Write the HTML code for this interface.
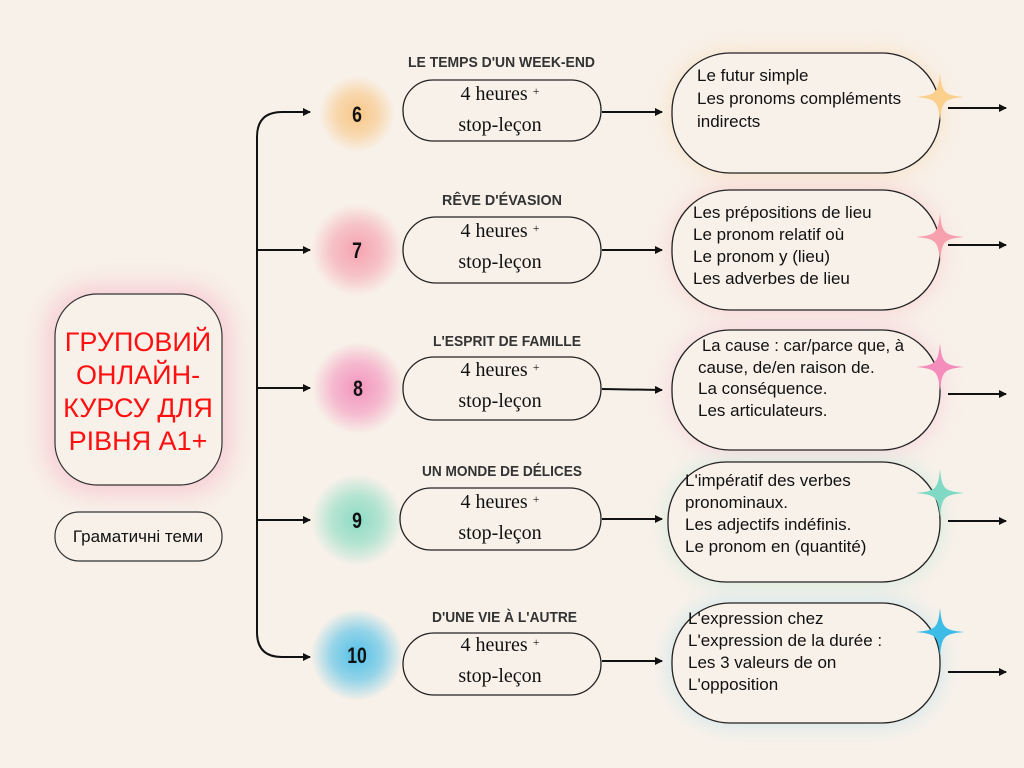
<!DOCTYPE html>
<html><head><meta charset="utf-8"><style>
html,body{margin:0;padding:0;background:#f8f1e9;}
svg{display:block}
.t{font-family:"Liberation Sans","DejaVu Sans",sans-serif;font-weight:bold;font-size:15px;fill:#333}
.n{font-family:"Liberation Sans",sans-serif;font-weight:bold;font-size:22px;fill:#111}
.h{font-family:"Liberation Serif",serif;font-size:20px;fill:#111}
.r{font-family:"Liberation Sans","DejaVu Sans",sans-serif;font-size:17px;fill:#111}
</style></head><body>
<svg width="1024" height="768" viewBox="0 0 1024 768" xmlns="http://www.w3.org/2000/svg">
<defs>
<radialGradient id="go"><stop offset="0" stop-color="#f8c27c"/><stop offset="0.55" stop-color="#f8c27c" stop-opacity="0.6"/><stop offset="1" stop-color="#f8c27c" stop-opacity="0"/></radialGradient>
<radialGradient id="gp"><stop offset="0" stop-color="#f59aaa"/><stop offset="0.55" stop-color="#f59aaa" stop-opacity="0.6"/><stop offset="1" stop-color="#f59aaa" stop-opacity="0"/></radialGradient>
<radialGradient id="gm"><stop offset="0" stop-color="#f28ab8"/><stop offset="0.55" stop-color="#f28ab8" stop-opacity="0.6"/><stop offset="1" stop-color="#f28ab8" stop-opacity="0"/></radialGradient>
<radialGradient id="gt"><stop offset="0" stop-color="#80d9c0"/><stop offset="0.55" stop-color="#80d9c0" stop-opacity="0.6"/><stop offset="1" stop-color="#80d9c0" stop-opacity="0"/></radialGradient>
<radialGradient id="gb"><stop offset="0" stop-color="#3fbbe8"/><stop offset="0.55" stop-color="#3fbbe8" stop-opacity="0.6"/><stop offset="1" stop-color="#3fbbe8" stop-opacity="0"/></radialGradient>
<filter id="blur" x="-50%" y="-50%" width="200%" height="200%"><feGaussianBlur stdDeviation="12"/></filter>
<marker id="ar" markerWidth="8" markerHeight="8" refX="7" refY="4" orient="auto" markerUnits="userSpaceOnUse"><path d="M0,0 L8,4 L0,8 z" fill="#111"/></marker>
<path id="star" d="M0,-24 C2,-4 4,-2 24,0 C4,2 2,4 0,24 C-2,4 -4,2 -24,0 C-4,-2 -2,-4 0,-24 z"/>
</defs>

<circle cx="357" cy="114" r="38" fill="url(#go)" opacity="0.9"/>
<circle cx="357" cy="250" r="46" fill="url(#gp)" opacity="0.9"/>
<circle cx="358" cy="388" r="46" fill="url(#gm)" opacity="0.9"/>
<circle cx="357" cy="520" r="46" fill="url(#gt)" opacity="0.9"/>
<circle cx="357" cy="655" r="46" fill="url(#gb)" opacity="0.9"/>
<rect x="45" y="285" width="187" height="210" rx="50" fill="#f7c0cc" filter="url(#blur)" opacity="0.7"/>
<rect x="672" y="53" width="268" height="120" rx="58" fill="#f8d3a8" filter="url(#blur)" opacity="0.6"/>
<rect x="672" y="190" width="268" height="120" rx="58" fill="#f7b8c0" filter="url(#blur)" opacity="0.6"/>
<rect x="672" y="330" width="268" height="120" rx="58" fill="#f5b8d0" filter="url(#blur)" opacity="0.6"/>
<rect x="668" y="462" width="272" height="120" rx="58" fill="#b6e6d6" filter="url(#blur)" opacity="0.6"/>
<rect x="672" y="603" width="268" height="120" rx="58" fill="#a6dcf0" filter="url(#blur)" opacity="0.6"/>

<rect x="55" y="294" width="167" height="191" rx="42" fill="#f8f1e9" stroke="#333" stroke-width="1.2"/>
<g font-family="Liberation Sans, DejaVu Sans, sans-serif" font-size="27" fill="#ff1010" text-anchor="middle">
<text x="138" y="351">ГРУПОВИЙ</text>
<text x="138" y="384">ОНЛАЙН-</text>
<text x="138" y="417">КУРСУ ДЛЯ</text>
<text x="138" y="450">РІВНЯ А1+</text>
</g>
<rect x="55" y="512" width="167" height="49" rx="24" fill="#f8f1e9" stroke="#333" stroke-width="1.2"/>
<text x="138" y="542" text-anchor="middle" font-family="Liberation Sans, DejaVu Sans, sans-serif" font-size="17" fill="#111">Граматичні теми</text>

<path d="M310,112 L282,112 Q257,112 257,137 L257,632 Q257,657 282,657 L310,657" fill="none" stroke="#111" stroke-width="2" marker-end="url(#ar)"/>
<line x1="282" y1="112" x2="310" y2="112" stroke="#111" stroke-width="2" marker-end="url(#ar)"/>
<line x1="257" y1="250" x2="310" y2="250" stroke="#111" stroke-width="2" marker-end="url(#ar)"/>
<line x1="257" y1="388" x2="310" y2="388" stroke="#111" stroke-width="2" marker-end="url(#ar)"/>
<line x1="257" y1="520" x2="310" y2="520" stroke="#111" stroke-width="2" marker-end="url(#ar)"/>

<g text-anchor="middle">
<text class="n" x="357" y="122" transform="translate(357 0) scale(0.8 1) translate(-357 0)">6</text>
<text class="n" x="357" y="258" transform="translate(357 0) scale(0.8 1) translate(-357 0)">7</text>
<text class="n" x="358" y="396" transform="translate(358 0) scale(0.8 1) translate(-358 0)">8</text>
<text class="n" x="357" y="528" transform="translate(357 0) scale(0.8 1) translate(-357 0)">9</text>
<text class="n" x="357" y="663" transform="translate(357 0) scale(0.8 1) translate(-357 0)">10</text>
</g>

<g>
<text class="t" x="408" y="67" textLength="187" lengthAdjust="spacingAndGlyphs">LE TEMPS D'UN WEEK-END</text>
<text class="t" x="442" y="205" textLength="120" lengthAdjust="spacingAndGlyphs">RÊVE D'ÉVASION</text>
<text class="t" x="433" y="346" textLength="148" lengthAdjust="spacingAndGlyphs">L'ESPRIT DE FAMILLE</text>
<text class="t" x="422" y="476" textLength="160" lengthAdjust="spacingAndGlyphs">UN MONDE DE DÉLICES</text>
<text class="t" x="432" y="622" textLength="145" lengthAdjust="spacingAndGlyphs">D'UNE VIE À L'AUTRE</text>
</g>

<g fill="none" stroke="#222" stroke-width="1.3">
<rect x="403" y="80" width="198" height="61" rx="30"/>
<rect x="403" y="217" width="198" height="66" rx="33"/>
<rect x="403" y="357" width="198" height="63" rx="31"/>
<rect x="400" y="488" width="201" height="62" rx="31"/>
<rect x="403" y="633" width="198" height="62" rx="31"/>
</g>
<g text-anchor="middle">
<text class="h" x="500" y="100">4 heures <tspan font-size="12" dy="-5">+</tspan></text><text class="h" x="500" y="131">stop-leçon</text>
<text class="h" x="500" y="237">4 heures <tspan font-size="12" dy="-5">+</tspan></text><text class="h" x="500" y="268">stop-leçon</text>
<text class="h" x="500" y="376">4 heures <tspan font-size="12" dy="-5">+</tspan></text><text class="h" x="500" y="407">stop-leçon</text>
<text class="h" x="500" y="508">4 heures <tspan font-size="12" dy="-5">+</tspan></text><text class="h" x="500" y="539">stop-leçon</text>
<text class="h" x="500" y="651">4 heures <tspan font-size="12" dy="-5">+</tspan></text><text class="h" x="500" y="682">stop-leçon</text>
</g>

<g stroke="#111" stroke-width="2" marker-end="url(#ar)">
<line x1="602" y1="112" x2="662" y2="112"/>
<line x1="602" y1="250" x2="662" y2="250"/>
<line x1="602" y1="389" x2="662" y2="390"/>
<line x1="602" y1="519" x2="662" y2="519"/>
<line x1="602" y1="661" x2="662" y2="661"/>
<line x1="948" y1="108" x2="1006" y2="108"/>
<line x1="948" y1="245" x2="1006" y2="245"/>
<line x1="948" y1="394" x2="1006" y2="394"/>
<line x1="948" y1="521" x2="1006" y2="521"/>
<line x1="948" y1="672" x2="1006" y2="672"/>
</g>

<g fill="#f8f1e9" stroke="#222" stroke-width="1.3">
<rect x="672" y="53" width="268" height="120" rx="58"/>
<rect x="672" y="190" width="268" height="120" rx="58"/>
<rect x="672" y="330" width="268" height="120" rx="58"/>
<rect x="668" y="462" width="272" height="120" rx="58"/>
<rect x="672" y="603" width="268" height="120" rx="58"/>
</g>
<g>
<text class="r" x="697" y="81">Le futur simple</text>
<text class="r" x="697" y="104">Les pronoms compléments</text>
<text class="r" x="697" y="127">indirects</text>
<text class="r" x="693" y="218">Les prépositions de lieu</text>
<text class="r" x="693" y="240">Le pronom relatif  où</text>
<text class="r" x="693" y="262">Le pronom y  (lieu)</text>
<text class="r" x="693" y="284">Les adverbes de lieu</text>
<text class="r" x="702" y="351" textLength="202" lengthAdjust="spacingAndGlyphs">La cause : car/parce que, à</text>
<text class="r" x="698" y="373">cause, de/en raison de.</text>
<text class="r" x="698" y="394">La conséquence.</text>
<text class="r" x="698" y="416">Les articulateurs.</text>
<text class="r" x="685" y="486">L'impératif des verbes</text>
<text class="r" x="685" y="508">pronominaux.</text>
<text class="r" x="685" y="530">Les adjectifs indéfinis.</text>
<text class="r" x="685" y="552">Le pronom en (quantité)</text>
<text class="r" x="688" y="624">L'expression chez</text>
<text class="r" x="688" y="646">L'expression de la durée :</text>
<text class="r" x="688" y="668">Les 3 valeurs de on</text>
<text class="r" x="688" y="690">L'opposition</text>
</g>

<use href="#star" x="940" y="97" fill="#fbcf8c"/>
<use href="#star" x="940" y="237" fill="#f7a0ae"/>
<use href="#star" x="940" y="367" fill="#f48cbc"/>
<use href="#star" x="940" y="493" fill="#7fd9c4"/>
<use href="#star" x="940" y="632" fill="#3ebce8"/>
</svg>
</body></html>
